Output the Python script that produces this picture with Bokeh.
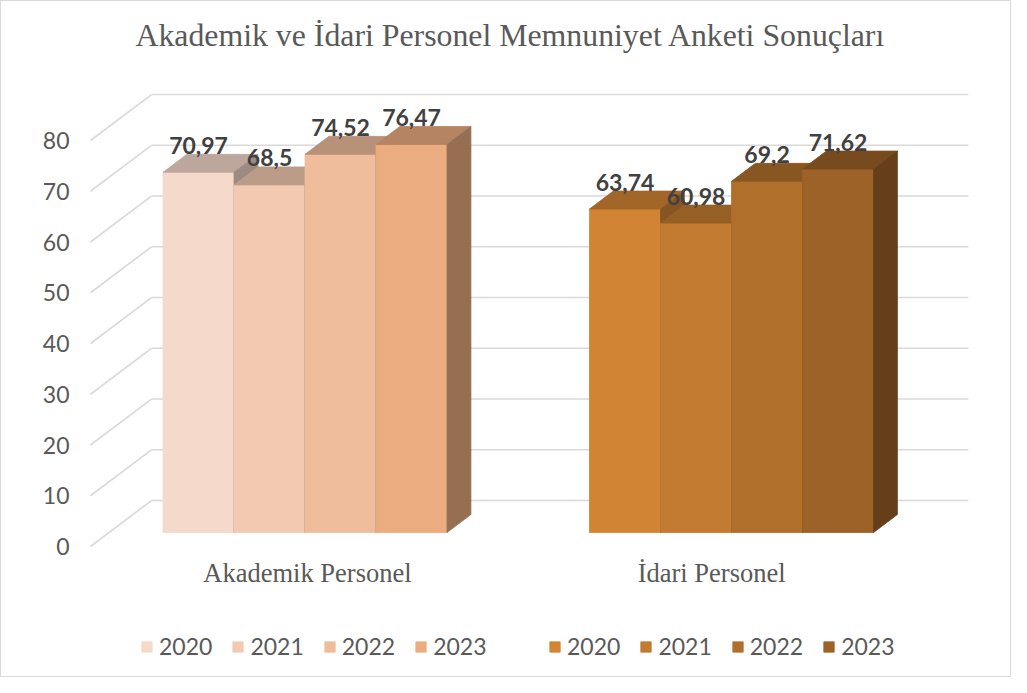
import numpy as np
from bokeh.plotting import figure
from bokeh.models import Range1d, LinearAxis, FixedTicker, Legend, LegendItem
from bokeh.core.properties import value
from bokeh.embed import file_html
from bokeh.resources import INLINE

# ---------------- data ----------------
TITLE = "Akademik ve İdari Personel Memnuniyet Anketi Sonuçları"
CATEGORIES = ["Akademik Personel", "İdari  Personel"]
YEARS = ["2020", "2021", "2022", "2023"]
AKADEMIK = [70.97, 68.5, 74.52, 76.47]
IDARI = [63.74, 60.98, 69.2, 71.62]
Y_TICKS = [0, 10, 20, 30, 40, 50, 60, 70, 80]

# ---------------- style ----------------
AK_COLORS = ["#F5D9CA", "#F1CAB1", "#EFBD9C", "#EBAC7F"]
ID_COLORS = ["#D18534", "#C27B30", "#B0702B", "#9C6227"]
TOP_SHADE = 0.77
SIDE_SHADE = 0.64
GRID_COLOR = "#D9D9D9"
TEXT_GRAY = "#595959"
LABEL_DARK = "#404040"

W, H = 1011, 677
LEFT_BORDER = 74
X_RANGE = (0.0053, 2.2023)     # category units
Y_RANGE = (-26.01, 107.39)     # value units (front plane)
CAT_X = [0.5, 1.5]             # category centres on the front plane
DEPTH_DX = 0.143               # oblique depth offset, x units
DEPTH_DY = 9.06                # oblique depth offset, value units
WALL_X0, WALL_X1 = 0.0404, 1.956
BAR_W = 0.1665
D0, D1 = 0.304, 0.695          # bar front / back depth fractions


def shade(hex_color, f):
    h = hex_color.lstrip("#")
    r, g, b = (int(h[i:i + 2], 16) for i in (0, 2, 4))
    return "#%02X%02X%02X" % (round(r * f), round(g * f), round(b * f))


p = figure(width=W, height=H, x_range=Range1d(*X_RANGE), y_range=Range1d(*Y_RANGE),
           x_axis_type=None, y_axis_type=None, output_backend="svg",
           toolbar_location=None, min_border_left=LEFT_BORDER, min_border_right=0,
           min_border_top=0, min_border_bottom=0)
p.outline_line_color = None
p.background_fill_color = "white"
p.border_fill_color = "white"
p.styles = {"border": "1px solid #D9D9D9"}

# y axis (front plane)
yaxis = LinearAxis(ticker=FixedTicker(ticks=Y_TICKS))
yaxis.axis_line_color = None
yaxis.major_tick_line_color = None
yaxis.minor_tick_line_color = None
yaxis.major_tick_out = 0
yaxis.major_tick_in = 0
yaxis.major_label_standoff = 6
yaxis.major_label_text_font = "Lato"
yaxis.major_label_text_font_size = "23px"
yaxis.major_label_text_color = TEXT_GRAY
p.add_layout(yaxis, "left")

# walls: back-wall and side-wall gridlines
ticks = np.array(Y_TICKS, dtype=float)
p.segment(x0=[WALL_X0 + DEPTH_DX] * len(ticks), y0=ticks + DEPTH_DY,
          x1=[WALL_X1 + DEPTH_DX] * len(ticks), y1=ticks + DEPTH_DY,
          line_color=GRID_COLOR, line_width=1.6)
p.segment(x0=[WALL_X0] * len(ticks), y0=ticks,
          x1=[WALL_X0 + DEPTH_DX] * len(ticks), y1=ticks + DEPTH_DY,
          line_color=GRID_COLOR, line_width=1.6)

groups = [(CAT_X[0], AKADEMIK, AK_COLORS), (CAT_X[1], IDARI, ID_COLORS)]
legend_groups = []
label_x, label_y, label_txt = [], [], []
for cx, vals, cols in groups:
    items = []
    for j, (v, c) in enumerate(zip(vals, cols)):
        xl = cx - 2 * BAR_W + j * BAR_W
        xr = xl + BAR_W
        fx0, fy0 = D0 * DEPTH_DX, D0 * DEPTH_DY
        fx1, fy1 = D1 * DEPTH_DX, D1 * DEPTH_DY
        front = p.quad(left=xl + fx0, right=xr + fx0, bottom=fy0, top=v + fy0,
                       fill_color=c, line_color=c, line_width=0.8)
        tc = shade(c, TOP_SHADE)
        p.patch(x=[xl + fx0, xr + fx0, xr + fx1, xl + fx1],
                y=[v + fy0, v + fy0, v + fy1, v + fy1],
                fill_color=tc, line_color=tc, line_width=0.8)
        sc = shade(c, SIDE_SHADE)
        p.patch(x=[xr + fx0, xr + fx0, xr + fx1, xr + fx1],
                y=[fy0, v + fy0, v + fy1, fy1],
                fill_color=sc, line_color=sc, line_width=0.8)
        items.append(LegendItem(label=YEARS[j], renderers=[front]))
        label_x.append((xl + xr) / 2 + fx0)
        label_y.append(v + fy0)
        label_txt.append(str(v).replace(".", ","))
    legend_groups.append(items)

# data labels
p.text(x=label_x, y=label_y, text=label_txt, text_align="center",
       text_baseline="alphabetic", y_offset=-27,
       text_font=value("Lato"), text_font_style="bold",
       text_font_size="23px", text_color=LABEL_DARK)

# category labels
p.text(x=CAT_X, y=[0, 0], text=CATEGORIES, x_offset=[21, 2], y_offset=26,
       text_align="center", text_baseline="alphabetic",
       text_font=value("Liberation Serif"), text_font_size="26.5px",
       text_color=TEXT_GRAY)

# title
p.text(x=[sum(CAT_X) / 2], y=[Y_TICKS[-1]], text=[TITLE], x_offset=11, y_offset=-105,
       text_align="center", text_baseline="alphabetic",
       text_font=value("Liberation Serif"), text_font_size="31.8px",
       text_color=TEXT_GRAY)

# legends
for items, loc in zip(legend_groups, [(65, 18), (473, 18)]):
    lg = Legend(items=items, orientation="horizontal", location=loc,
                glyph_width=13, glyph_height=13, label_standoff=6, spacing=19,
                padding=0, margin=0, border_line_color=None,
                background_fill_alpha=0, label_text_font="Lato",
                label_text_font_size="23px", label_text_color=TEXT_GRAY)
    p.add_layout(lg)

open("out.html", "w").write(file_html(p, INLINE))
